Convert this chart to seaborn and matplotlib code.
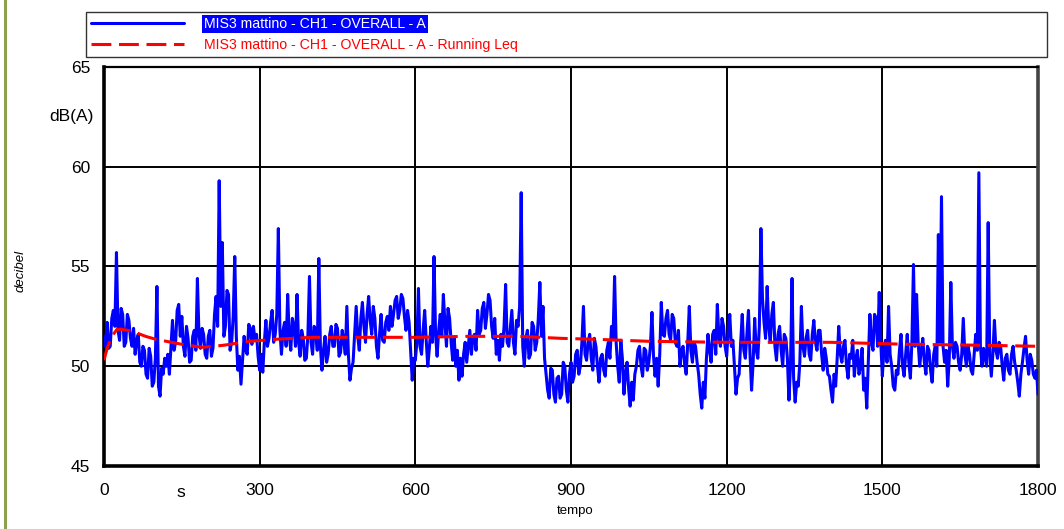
import numpy as np
import pandas as pd
import matplotlib
matplotlib.use('Agg')
import matplotlib.pyplot as plt
import matplotlib.ticker as mtick
from matplotlib.lines import Line2D
import seaborn as sns

sns.set_style('white')
plt.rcParams['font.family'] = ['Liberation Sans', 'DejaVu Sans']
plt.rcParams['text.color'] = 'black'
plt.rcParams['xtick.color'] = 'black'
plt.rcParams['ytick.color'] = 'black'
plt.rcParams['axes.labelcolor'] = 'black'

# sound level, one reading every 3 s (dB(A)), one row per minute
level_db = [
    51.5, 51.0, 52.2, 50.9, 51.0, 52.4, 52.8, 52.0, 55.7, 51.8, 51.3, 52.9, 52.6, 51.0, 51.2, 52.6, 52.3, 51.4, 51.0, 51.9,
    50.6, 51.3, 51.6, 50.2, 50.0, 51.0, 50.8, 49.6, 49.4, 50.9, 50.5, 49.0, 49.2, 50.4, 54.0, 49.0, 48.5, 49.9, 49.6, 50.4,
    50.0, 50.6, 49.6, 51.0, 52.3, 50.8, 51.2, 52.8, 53.1, 51.5, 52.5, 51.0, 50.5, 52.0, 51.4, 50.2, 50.3, 51.5, 51.8, 50.8,
    54.4, 51.6, 50.9, 51.9, 51.6, 50.6, 50.4, 51.5, 51.8, 50.5, 50.9, 52.6, 53.5, 52.0, 59.3, 53.0, 56.2, 51.5, 52.0, 53.8,
    53.6, 50.8, 51.2, 52.5, 55.5, 51.5, 49.8, 50.5, 49.1, 50.3, 51.5, 50.8, 50.6, 52.1, 51.9, 51.1, 52.0, 51.3, 51.6, 50.5,
    49.8, 50.6, 49.7, 51.2, 52.3, 51.0, 51.4, 52.2, 52.8, 51.2, 51.6, 52.6, 56.9, 51.8, 50.6, 51.8, 52.2, 51.0, 53.6, 51.5,
    50.8, 52.4, 52.0, 51.0, 53.6, 51.2, 50.5, 51.8, 51.4, 50.3, 50.4, 51.6, 54.5, 51.2, 50.6, 52.0, 51.8, 50.8, 55.4, 51.0,
    49.8, 50.8, 51.5, 50.2, 50.6, 51.6, 52.0, 51.0, 51.0, 52.1, 51.9, 50.5, 50.7, 51.8, 51.3, 50.6, 53.0, 50.6, 49.3, 49.9,
    50.2, 51.6, 53.0, 51.5, 50.8, 52.4, 53.2, 52.0, 51.2, 52.6, 53.5, 52.3, 51.6, 53.0, 52.4, 51.0, 50.4, 51.6, 52.6, 51.3,
    51.2, 52.2, 52.5, 51.8, 53.0, 52.0, 52.6, 53.3, 53.5, 52.4, 52.8, 53.6, 53.4, 52.5, 51.8, 52.8, 52.2, 50.8, 49.3, 50.4,
    50.3, 51.2, 53.9, 51.0, 50.6, 51.8, 52.8, 51.3, 50.0, 50.9, 52.0, 51.2, 55.5, 51.6, 50.5, 51.8, 52.6, 51.5, 53.6, 52.2,
    51.0, 52.9, 52.4, 51.2, 50.3, 51.4, 50.0, 50.8, 49.3, 50.4, 49.5, 50.6, 51.2, 50.2, 51.0, 51.8, 50.6, 51.4, 51.6, 50.8,
    52.8, 51.6, 51.8, 52.9, 53.2, 51.9, 52.6, 53.6, 53.3, 52.0, 51.4, 52.4, 50.6, 51.3, 50.3, 51.6, 51.0, 52.0, 54.1, 51.2,
    51.0, 51.9, 52.8, 51.2, 50.6, 52.3, 52.0, 53.0, 58.7, 51.0, 50.0, 51.4, 51.8, 50.4, 50.6, 52.2, 52.0, 50.8, 51.2, 52.4,
    54.2, 51.5, 53.0, 50.4, 49.6, 48.8, 48.4, 49.9, 49.8, 48.6, 48.2, 49.4, 49.5, 48.4, 48.6, 50.2, 50.0, 48.8, 48.2, 49.6,
    50.2, 49.2, 49.5, 50.6, 50.8, 49.6, 50.0, 51.2, 53.0, 50.6, 50.3, 51.2, 51.6, 50.4, 49.8, 51.4, 51.0, 50.0, 49.2, 50.4,
    50.6, 49.8, 49.5, 50.8, 51.2, 50.4, 52.0, 51.4, 54.5, 51.2, 50.0, 49.2, 51.3, 50.4, 48.6, 49.6, 50.2, 48.9, 48.0, 49.2,
    48.3, 49.6, 50.0, 50.8, 51.0, 50.0, 49.5, 50.9, 50.8, 49.8, 50.2, 51.0, 52.7, 50.5, 49.5, 50.4, 49.0, 50.6, 53.2, 51.6,
    51.5, 52.4, 52.8, 51.6, 51.3, 52.6, 52.4, 51.2, 51.0, 51.8, 50.0, 50.8, 51.0, 50.1, 49.6, 51.2, 53.0, 50.8, 50.2, 51.2,
    51.0, 50.2, 49.6, 48.6, 47.9, 49.2, 48.4, 50.4, 51.6, 50.8, 50.2, 51.6, 51.8, 50.6, 53.1, 51.5, 51.0, 52.4, 52.0, 51.0,
    50.5, 51.8, 52.6, 51.0, 51.3, 50.0, 48.6, 49.4, 49.6, 51.2, 52.6, 50.8, 50.4, 51.6, 52.8, 50.6, 48.8, 50.2, 52.4, 50.8,
    50.4, 52.0, 56.9, 53.4, 52.2, 51.4, 54.0, 52.0, 51.2, 52.6, 53.2, 51.0, 50.3, 51.6, 52.0, 50.8, 50.0, 51.6, 51.4, 50.4,
    48.3, 50.0, 54.4, 49.4, 48.2, 49.2, 49.0, 50.2, 53.0, 51.0, 50.5, 51.4, 51.8, 50.6, 50.3, 51.6, 52.3, 51.2, 50.8, 51.8,
    51.8, 50.6, 49.8, 50.9, 50.4, 49.6, 49.5, 48.8, 48.2, 49.6, 49.0, 50.4, 52.0, 50.6, 50.2, 51.0, 51.3, 50.0, 49.4, 50.6,
    50.4, 51.3, 49.5, 50.4, 50.8, 49.6, 50.0, 50.9, 48.8, 49.4, 47.9, 50.2, 52.6, 51.2, 50.8, 52.6, 52.4, 51.0, 53.7, 51.2,
    49.5, 50.8, 51.3, 50.2, 53.0, 50.6, 50.0, 49.0, 48.8, 49.8, 49.6, 50.8, 51.6, 50.0, 49.5, 50.6, 51.6, 50.2, 49.4, 51.2,
    55.1, 51.0, 53.6, 51.2, 50.0, 50.8, 51.4, 50.2, 49.6, 51.0, 50.8, 49.8, 49.2, 50.6, 51.0, 50.0, 56.6, 51.2, 58.5, 51.0,
    50.2, 50.8, 49.0, 50.4, 54.2, 51.0, 50.4, 51.2, 51.0, 50.2, 49.8, 50.6, 52.4, 50.6, 50.0, 51.0, 50.6, 49.8, 49.6, 50.6,
    51.6, 50.8, 59.7, 51.0, 50.0, 50.9, 50.4, 50.0, 57.2, 50.6, 49.5, 50.6, 52.3, 50.8, 50.4, 51.2, 51.0, 50.0, 49.3, 50.4,
    50.6, 49.8, 49.6, 50.6, 51.0, 50.2, 49.8, 49.2, 48.5, 49.6, 50.2, 50.9, 51.5, 50.3, 49.6, 50.6, 50.3, 49.6, 49.4, 49.8,
    48.6,
]
level_t = np.arange(0, 1801, 3)

# running Leq
leq_t = [0, 6, 12, 18, 25, 35, 45, 60, 80, 100, 130, 160, 190, 230, 280, 330,
         400, 500, 600, 700, 800, 880, 950, 1050, 1200, 1400, 1550, 1700, 1800]
leq_db = [50.3, 50.9, 51.3, 51.6, 51.85, 51.85, 51.8, 51.7, 51.5, 51.35, 51.2,
          51.05, 50.95, 51.05, 51.25, 51.35, 51.45, 51.45, 51.45, 51.5, 51.5,
          51.4, 51.35, 51.25, 51.2, 51.2, 51.1, 51.05, 51.0]

label_main = 'MIS3 mattino - CH1 - OVERALL - A'
label_leq = 'MIS3 mattino - CH1 - OVERALL - A - Running Leq'

df_level = pd.DataFrame({'t': level_t, 'db': level_db})
df_leq = pd.DataFrame({'t': leq_t, 'db': leq_db})

fig = plt.figure(figsize=(10.64, 5.29), dpi=100)
ax = fig.add_axes([104 / 1064, 63 / 529, 934 / 1064, 399 / 529])

sns.lineplot(data=df_level, x='t', y='db', ax=ax, color='#0000FF',
             linewidth=2.2, label=label_main, zorder=3)
sns.lineplot(data=df_leq, x='t', y='db', ax=ax, color='#FF0000',
             linewidth=2.2, dashes=False, label=label_leq, zorder=4)
ax.lines[1].set_dashes([6.5, 2.5])

ax.set_xlim(0, 1800)
ax.set_ylim(45, 65)
ax.xaxis.set_major_locator(mtick.MultipleLocator(300))
ax.xaxis.set_minor_locator(mtick.MultipleLocator(50))
ax.yaxis.set_major_locator(mtick.MultipleLocator(5))
ax.yaxis.set_minor_locator(mtick.MultipleLocator(1))
ax.tick_params(axis='both', which='major', length=7, width=1.2,
               labelsize=12.5, pad=3, direction='out', color='#222222',
               labelcolor='black')
ax.tick_params(axis='both', which='minor', length=4.5, width=1.0,
               direction='out', color='#222222')
ax.tick_params(axis='x', which='major', pad=5)
ax.grid(True, which='major', color='black', linewidth=1.4, zorder=1)
ax.set_axisbelow(True)
for side in ['left', 'bottom']:
    ax.spines[side].set_linewidth(2.6)
    ax.spines[side].set_color('black')
ax.spines['top'].set_linewidth(1.6)
ax.spines['top'].set_color('black')
ax.spines['right'].set_linewidth(2.6)
ax.spines['right'].set_color('#444444')

ax.set_xlabel('tempo', fontsize=9.5, color='black')
ax.set_ylabel('decibel', fontsize=9.5, style='italic', color='black')
ax.xaxis.set_label_coords(0.504, -0.098)
ax.yaxis.set_label_coords(-0.083, 0.49)
ax.text(-0.011, 0.875, 'dB(A)', transform=ax.transAxes, ha='right',
        va='center', fontsize=12.5, color='black')
ax.text(0.0824, -0.066, 's', transform=ax.transAxes, ha='center',
        va='center', fontsize=12.5, color='black')

ax.get_legend().remove()
handles = ax.get_lines()[:2]
leg = fig.legend(handles, [label_main, label_leq], loc='upper left',
                 bbox_to_anchor=(86 / 1064, 1 - 12 / 529, 961 / 1064, 0),
                 mode='expand', ncol=1, frameon=True, fancybox=False,
                 edgecolor='black', fontsize=10.2,
                 handlelength=6.6, handletextpad=1.4, borderpad=0.35,
                 labelspacing=0.5, borderaxespad=0)
leg.get_frame().set_linewidth(1.0)
texts = leg.get_texts()
texts[0].set_color('white')
texts[0].set_bbox(dict(facecolor='#0000FF', edgecolor='none', pad=1.5))
texts[1].set_color('#FF0000')

fig.add_artist(Line2D([5 / 1064, 5 / 1064], [0, 1], color='#8DA04F',
                      linewidth=2.2, transform=fig.transFigure))

fig.savefig('out.png', dpi=100)
